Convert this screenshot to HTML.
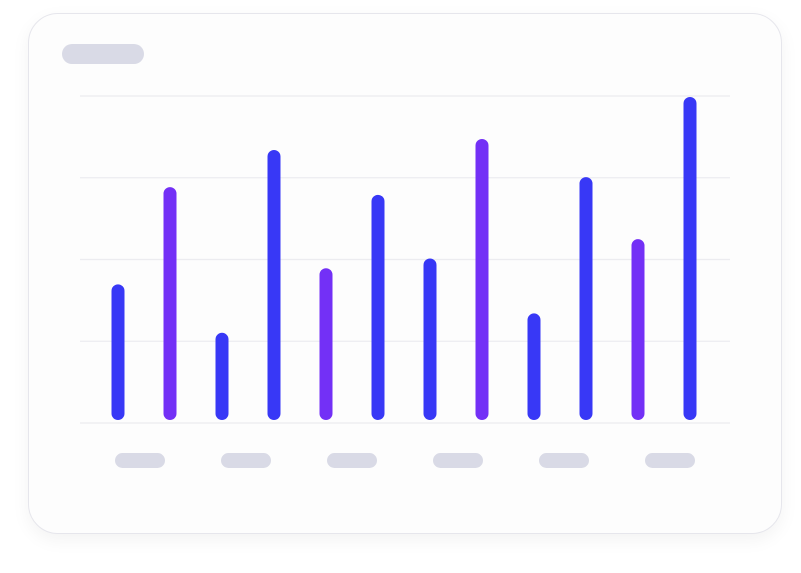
<!DOCTYPE html>
<html><head><meta charset="utf-8"><style>
html,body{margin:0;padding:0;background:#fff;width:801px;height:573px;overflow:hidden;font-family:"Liberation Sans",sans-serif}
#card{position:absolute;left:28px;top:13px;width:752px;height:519px;border:1px solid #e6e6ec;border-radius:30px;background:#fdfdfd;box-shadow:0 6px 18px rgba(0,0,0,0.05)}
</style></head><body>
<div id="card"></div>
<svg id="chart" width="801" height="573" style="position:absolute;left:0;top:0">
<rect x="62" y="44" width="82" height="20" rx="10" fill="#d9dae6"></rect>
</svg>
<script>
const categories=["c1","c2","c3","c4","c5","c6","c7","c8","c9","c10","c11","c12"];
const values=[42,72.1,27,83.6,47,69.7,50,87,33,75.2,56,100];
const seriesType=["a","b","a","a","b","a","a","b","a","a","b","a"];
const gridTicks=[0,25,50,75,100];
const groupLabels=["g1","g2","g3","g4","g5","g6"];
const svg=document.getElementById('chart');
const NS='http://www.w3.org/2000/svg';
const y0=420,y1=97;
function yScale(v){return y0-(v/100)*(y0-y1);}
function xScale(i){return 118+i*52;}
function gridY(v){return 423-(v/100)*(423-96);}
gridTicks.forEach(t=>{
 const l=document.createElementNS(NS,'line');
 l.setAttribute('x1',80);l.setAttribute('x2',730);
 l.setAttribute('y1',gridY(t));l.setAttribute('y2',gridY(t));
 l.setAttribute('stroke','#ececf0');l.setAttribute('stroke-width','1.2');
 
 
 svg.appendChild(l);
});
values.forEach((v,i)=>{
 const r=document.createElementNS(NS,'rect');
 const top=yScale(v);
 r.setAttribute('x',xScale(i)-6.5);r.setAttribute('y',top);
 r.setAttribute('width',13);r.setAttribute('height',y0-top);
 r.setAttribute('rx',6.5);
 r.setAttribute('fill',seriesType[i]==='b'?'#7330f6':'#3838f6');
 
 
 svg.appendChild(r);
});
groupLabels.forEach((g,i)=>{
 const r=document.createElementNS(NS,'rect');
 r.setAttribute('x',140+i*106-25);r.setAttribute('y',453);
 r.setAttribute('width',50);r.setAttribute('height',15);r.setAttribute('rx',7.5);
 r.setAttribute('fill','#d9dae6');
 
 
 svg.appendChild(r);
});
</script>
</body></html>
